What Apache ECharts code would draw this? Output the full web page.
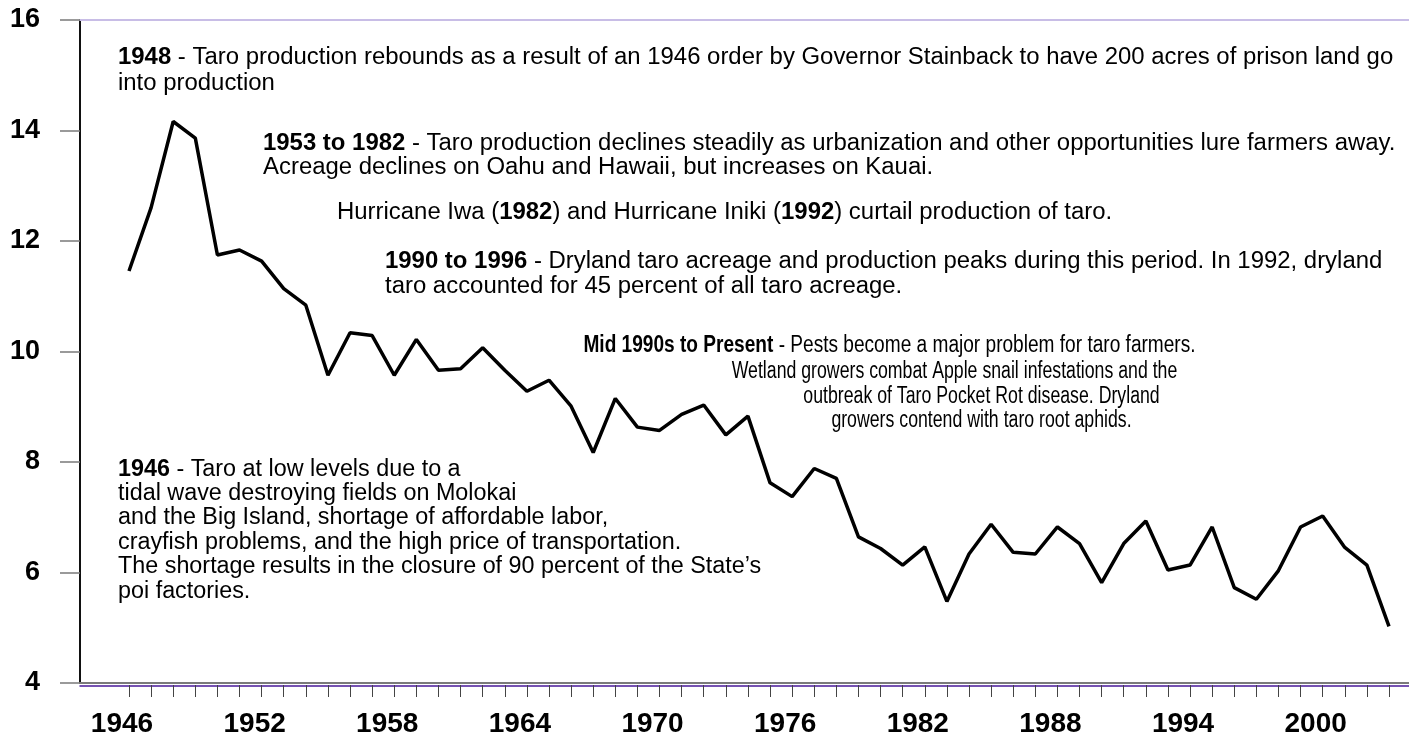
<!DOCTYPE html>
<html><head><meta charset="utf-8">
<script src="https://cdn.jsdelivr.net/npm/echarts@6/dist/echarts.min.js"></script>
<style>html,body{margin:0;padding:0;background:#fff}#c{width:1409px;height:738px}</style>
</head><body><div id="c"></div>
<script>
const years = ['1946','1947','1948','1949','1950','1951','1952','1953','1954','1955',
  '1956','1957','1958','1959','1960','1961','1962','1963','1964','1965',
  '1966','1967','1968','1969','1970','1971','1972','1973','1974','1975',
  '1976','1977','1978','1979','1980','1981','1982','1983','1984','1985',
  '1986','1987','1988','1989','1990','1991','1992','1993','1994','1995',
  '1996','1997','1998','1999','2000','2001','2002','2003'];
const production = [11.45,12.60,14.16,13.86,11.74,11.83,11.63,11.13,10.83,9.56,
  10.33,10.28,9.56,10.21,9.65,9.68,10.06,9.65,9.27,9.47,
  9.00,8.16,9.14,8.62,8.56,8.85,9.02,8.48,8.82,7.61,
  7.36,7.87,7.69,6.63,6.42,6.12,6.45,5.46,6.32,6.86,
  6.35,6.32,6.81,6.51,5.80,6.51,6.92,6.03,6.12,6.81,
  5.71,5.50,6.02,6.81,7.01,6.44,6.12,5.01];
const yMin = 4, yMax = 16, yStep = 2;
const labelEvery = 6;

const note1948 = ['{b|1948} - Taro production rebounds as a result of an 1946 order by Governor Stainback to have 200 acres of prison land go', 'into production'];
const note1953 = ['{b|1953 to 1982} - Taro production declines steadily as urbanization and other opportunities lure farmers away.', 'Acreage declines on Oahu and Hawaii, but increases on Kauai.'];
const noteHurricane = ['Hurricane Iwa ({b|1982}) and Hurricane Iniki ({b|1992}) curtail production of taro.'];
const note1990 = ['{b|1990 to 1996} - Dryland taro acreage and production peaks during this period. In 1992, dryland', 'taro accounted for 45 percent of all taro acreage.'];
const noteMid90s = ['{b|Mid 1990s to Present} - Pests become a major problem for taro farmers.', 'Wetland growers combat Apple snail infestations and the', 'outbreak of Taro Pocket Rot disease. Dryland', 'growers contend with taro root aphids.'];
const note1946 = ['{b|1946} - Taro at low levels due to a', 'tidal wave destroying fields on Molokai', 'and the Big Island, shortage of affordable labor,', 'crayfish problems, and the high price of transportation.', 'The shortage results in the closure of 90 percent of the State\u2019s', 'poi factories.'];

const FONT = "'Liberation Sans', Arial, sans-serif";
const FS = 23;
function block(lines, x, yTop, lh, align, sx) {
  return {
    type: 'text', x: x, y: yTop, z: 10, scaleX: sx || 1.04,
    style: {
      text: lines.join('\n'), fill: '#000', fontSize: FS, fontFamily: FONT,
      lineHeight: lh, align: align || 'left', verticalAlign: 'top',
      rich: { b: { fontWeight: 'bold', fontSize: FS, fontFamily: FONT, lineHeight: lh, fill: '#000' } }
    }
  };
}

const chart = echarts.init(document.getElementById('c'), null, {renderer: 'canvas'});
const gridTop = 20, gridH = 663;
chart.setOption({
  animation: false,
  backgroundColor: '#fff',
  grid: [
    {left: 80, right: 0, top: gridTop, height: gridH},
    {left: 129, right: 20, top: gridTop, height: gridH}
  ],
  xAxis: [
    {gridIndex: 0, type: 'value', min: 0, max: 1, position: 'bottom',
     axisLine: {show: true, lineStyle: {color: '#7a7a7a', width: 2}}, axisTick: {show: false}, axisLabel: {show: false}, splitLine: {show: false}},
    {gridIndex: 0, type: 'value', min: 0, max: 1, position: 'bottom', offset: 3,
     axisLine: {show: true, lineStyle: {color: '#4a1a9a', width: 1.5}}, axisTick: {show: false}, axisLabel: {show: false}, splitLine: {show: false}},
    {gridIndex: 0, type: 'value', min: 0, max: 1, position: 'top',
     axisLine: {show: true, lineStyle: {color: '#c8bde6', width: 2}}, axisTick: {show: false}, axisLabel: {show: false}, splitLine: {show: false}},
    {gridIndex: 1, type: 'category', data: years, boundaryGap: false, position: 'bottom', offset: 3,
     axisLine: {show: false},
     axisTick: {show: true, interval: 0, length: 12, lineStyle: {color: '#444', width: 1}},
     axisLabel: {interval: labelEvery - 1, fontSize: 28, fontWeight: 'bold', fontFamily: FONT, color: '#000', margin: 25, padding: [0, 14, 0, 0]},
     splitLine: {show: false}}
  ],
  yAxis: [
    {gridIndex: 0, type: 'value', min: yMin, max: yMax, interval: yStep,
     axisLine: {show: true, lineStyle: {color: '#111', width: 2}},
     axisTick: {show: true, length: 20, lineStyle: {color: '#7a7a7a', width: 1.5}},
     axisLabel: {fontSize: 27, fontWeight: 'bold', fontFamily: FONT, color: '#000', margin: 40},
     splitLine: {show: false}},
    {gridIndex: 1, type: 'value', min: yMin, max: yMax, interval: yStep, show: false, splitLine: {show: false}}
  ],
  series: [{
    type: 'line', xAxisIndex: 3, yAxisIndex: 1, data: production,
    symbol: 'none', lineStyle: {color: '#000', width: 3.5}, z: 5
  }],
  graphic: [
    block(note1948, 118, 45, 26),
    block(note1953, 263, 132, 24),
    block(noteHurricane, 337, 201, 24),
    block(note1990, 385, 249, 25),
    block([noteMid90s[0]], 889.5, 334, 24, 'center', 0.83),
    block([noteMid90s[1]], 954.5, 360, 24, 'center', 0.77),
    block([noteMid90s[2]], 981.5, 385, 24, 'center', 0.77),
    block([noteMid90s[3]], 981.5, 409, 24, 'center', 0.77),
    block(note1946, 118, 457, 24.4, 'left', 1.015)
  ]
});
</script></body></html>
